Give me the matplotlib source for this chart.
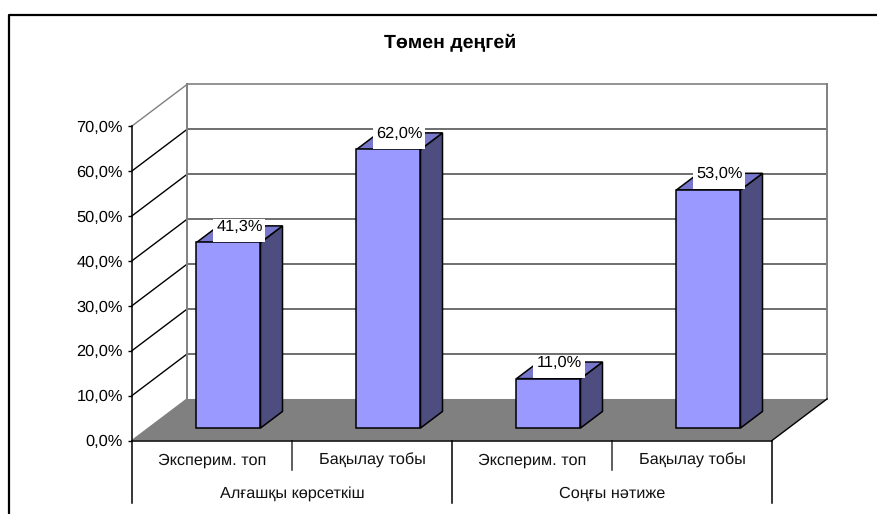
import matplotlib

matplotlib.use("Agg")
import matplotlib.pyplot as plt
from matplotlib.lines import Line2D
from matplotlib.patches import Polygon, Rectangle
from matplotlib.ticker import FuncFormatter

plt.rcParams["font.family"] = ["Liberation Sans", "DejaVu Sans"]
plt.rcParams["text.hinting"] = "none"

# data
groups = ["Алғашқы көрсеткіш", "Соңғы нәтиже"]
categories = ["Эксперим. топ", "Бақылау тобы", "Эксперим. топ", "Бақылау тобы"]
values = [41.3, 62.0, 11.0, 53.0]
y_ticks = [0, 10, 20, 30, 40, 50, 60, 70]
title = "Төмен деңгей"

W, H = 878, 514
PX_X = 1 / 160  # x units per pixel
PX_Y = 1 / 4.49  # y units per pixel
DEPTH_X = 55 * PX_X  # shift of the back wall
DEPTH_Y = 41.5 * PX_Y
BAR_W = 0.4
FRONT, BACK = 0.3, 0.7  # bar depth range, fraction of floor depth


def proj(x, y, d):
    """Oblique projection of (x, y) at depth d (0 front, 1 back wall)."""
    return x + d * DEPTH_X, y + d * DEPTH_Y


def pct(v):
    return f"{v:.1f}%".replace(".", ",")


fig = plt.figure(figsize=(W / 100, H / 100), dpi=100)
ax = fig.add_axes([132 / W, (H - 440.5) / H, 640 / W, 314.5 / H])
ax.set_xlim(0, len(values))
ax.set_ylim(y_ticks[0], y_ticks[-1])
ax.patch.set_visible(False)
for s in ("top", "right"):
    ax.spines[s].set_visible(False)
for s in ("left", "bottom"):
    ax.spines[s].set_linewidth(1.1)
    ax.spines[s].set_zorder(6)
ax.set_xticks([])
ax.set_yticks(y_ticks)
ax.yaxis.set_major_formatter(FuncFormatter(lambda v, _: pct(v)))
ax.tick_params(axis="y", labelsize=11.8, length=3, width=1, pad=3.5)

# walls and gridlines
x_end = len(values)
for t in y_ticks:
    bx, by = proj(0, t, 1)
    ex, _ = proj(x_end, t, 1)
    edge = t in (y_ticks[0], y_ticks[-1])
    ax.plot([0, bx], [t, by], color="#808080" if edge else "black", lw=1.0, clip_on=False, zorder=1)
    if t > 0:
        ax.plot([bx, ex], [by, by], color="#808080" if edge else "#555555", lw=1.2, clip_on=False, zorder=1)
bx, by0 = proj(0, 0, 1)
_, by1 = proj(0, y_ticks[-1], 1)
ex, _ = proj(x_end, 0, 1)
ax.plot([bx, bx], [by0, by1], color="#808080", lw=1.4, clip_on=False, zorder=1)
ax.plot([ex, ex], [by0, by1], color="#808080", lw=1.4, clip_on=False, zorder=1)

# floor
ax.add_patch(Polygon([(0, 0), (x_end, 0), proj(x_end, 0, 1), proj(0, 0, 1)],
                     closed=True, fc="#808080", ec="none", clip_on=False, zorder=2))
ax.plot([x_end, ex], [0, by0], color="black", lw=1.0, clip_on=False, zorder=2)

# bars
for i, v in enumerate(values):
    x0 = i + 0.5 - BAR_W / 2
    x1 = x0 + BAR_W
    fx0, fy0 = proj(x0, 0, FRONT)
    fx1, _ = proj(x1, 0, FRONT)
    ftop = fy0 + v
    side = [proj(x1, 0, FRONT), proj(x1, 0, BACK), proj(x1, v, BACK), proj(x1, v, FRONT)]
    top = [proj(x0, v, FRONT), proj(x1, v, FRONT), proj(x1, v, BACK), proj(x0, v, BACK)]
    ax.add_patch(Polygon(side, closed=True, fc="#4D4D80", ec="black", lw=1.1, clip_on=False, zorder=3))
    ax.add_patch(Polygon(top, closed=True, fc="#7777CC", ec="black", lw=1.1, clip_on=False, zorder=3))
    ax.bar(fx0, v, width=fx1 - fx0, bottom=fy0, align="edge", color="#9999FF",
           edgecolor="black", linewidth=1.1, clip_on=False, zorder=3)
    # white label box sits on the bar top, text rides high in it
    ax.add_patch(Rectangle((fx0 + 17 * PX_X, ftop + 0.8 * PX_Y), 52 * PX_X, 23 * PX_Y,
                           fc="white", ec="none", clip_on=False, zorder=4))
    ax.text(fx0 + 43 * PX_X, ftop + 16 * PX_Y, pct(v), ha="center", va="center",
            fontsize=11.8, clip_on=False, zorder=5)

# two-level category axis
for i in range(len(values) + 1):
    low = -14 if i % 2 == 0 else -6.6
    ax.plot([i, i], [0, low], color="black" if i % 2 == 0 else "#333333", lw=1.1, clip_on=False, zorder=6)
for i, name in enumerate(categories):
    ax.text(i + 0.5, -4.4, name, ha="center", va="center", fontsize=11.7, color="#111111")
for i, name in enumerate(groups):
    ax.text(2 * i + 1, -11.9, name, ha="center", va="center", fontsize=11.7, color="#111111")

fig.text(450.5 / W, 1 - 42 / H, title, ha="center", va="center", fontsize=14, fontweight="bold")

# chart frame: only left and top edges show, the rest is cropped
xl, yt = 9.5 / W, 1 - 14.5 / H
fig.add_artist(Line2D([xl, xl, 1], [0, yt, yt], color="black", lw=1.6))

fig.savefig("out.png", dpi=100)
